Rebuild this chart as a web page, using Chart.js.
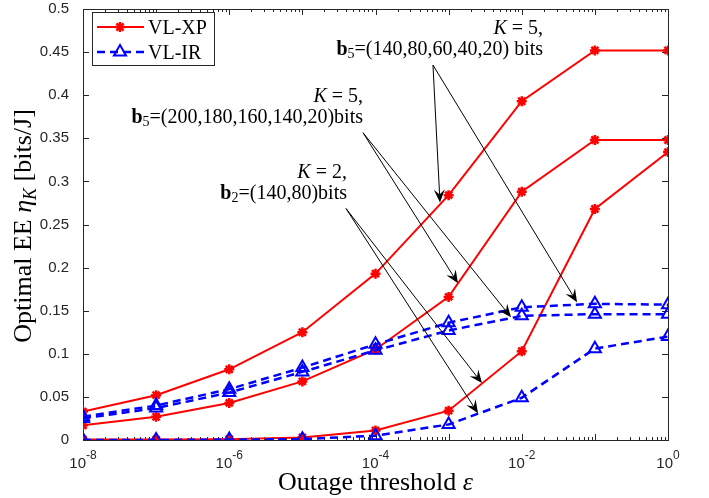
<!DOCTYPE html>
<html>
<head>
<meta charset="utf-8">
<script src="https://cdn.jsdelivr.net/npm/chart.js@4.4.1/dist/chart.umd.min.js"></script>
<style>
  body { margin: 0; background: #fff; }
  canvas { display: block; }
</style>
</head>
<body>
<canvas id="eeChart" width="709" height="498"></canvas>
<script>
/* Data */
const epsilon = [1e-8, 1e-7, 1e-6, 1e-5, 1e-4, 1e-3, 1e-2, 1e-1, 1];
// VL-XP (red)
const xpK5short = [0.033, 0.052, 0.082, 0.125, 0.193, 0.284, 0.393, 0.452, 0.452]; // b5=(140,80,60,40,20)
const xpK5long  = [0.017, 0.027, 0.043, 0.068, 0.105, 0.166, 0.288, 0.348, 0.348]; // b5=(200,180,160,140,20)
const xpK2      = [0.0005, 0.0005, 0.001, 0.003, 0.011, 0.034, 0.103, 0.268, 0.334]; // b2=(140,80)
// VL-IR (blue)
const irK5short = [0.027, 0.040, 0.059, 0.084, 0.111, 0.136, 0.154, 0.158, 0.157];
const irK5long  = [0.025, 0.037, 0.055, 0.079, 0.104, 0.127, 0.144, 0.146, 0.146];
const irK2      = [0, 0, 0.0005, 0.001, 0.005, 0.018, 0.049, 0.106, 0.120];

const yTicks = [0, 0.05, 0.1, 0.15, 0.2, 0.25, 0.3, 0.35, 0.4, 0.45, 0.5];
const xTicks = [1e-8, 1e-6, 1e-4, 1e-2, 1];
const xTickExp = ['-8', '-6', '-4', '-2', '0'];

const RED = '#ff0000';
const BLUE = '#0000ff';
const AXIS = '#262626';
const SERIF = '"Liberation Serif", "Times New Roman", serif';
const SANS = '"Liberation Sans", Arial, sans-serif';

function pts(vals) {
  return vals.map((v, i) => ({ x: epsilon[i], y: v }));
}

function xp(label, vals) {
  return {
    label, data: pts(vals), borderColor: RED, backgroundColor: RED,
    borderWidth: 2, pointStyle: 'star', pointRadius: 5, pointBorderWidth: 2.5,
    pointBorderColor: RED, tension: 0
  };
}

function ir(label, vals) {
  return {
    label, data: pts(vals), borderColor: BLUE, backgroundColor: 'rgba(0,0,0,0)',
    borderWidth: 2.5, borderDash: [8, 5], pointStyle: 'triangle', pointRadius: 7,
    pointBorderWidth: 2, pointBorderColor: BLUE, tension: 0
  };
}

/* Annotations: text anchored at its right end (x as log10 eps, y as EE), arrows from -> tips */
const notes = [
  { right: [-1.709, 0.471], k: '5', bits: '=(140,80,60,40,20) bits',
    from: [-3.214, 0.435], tips: [[-3.118, 0.2755], [-1.244, 0.1597]] },
  { right: [-4.171, 0.392], k: '5', bits: '=(200,180,160,140,20)bits',
    from: [-4.171, 0.3565], tips: [[-2.872, 0.1817], [-2.147, 0.1424]] },
  { right: [-4.390, 0.304], k: '2', bits: '=(140,80)bits',
    from: [-4.403, 0.2685], tips: [[-2.544, 0.066], [-2.598, 0.031]] }
];

function drawRuns(ctx, runs, xRight, y) {
  let total = 0;
  runs.forEach(r => { ctx.font = r.font; total += ctx.measureText(r.t).width; });
  let x = xRight - total;
  runs.forEach(r => {
    ctx.font = r.font;
    ctx.fillText(r.t, x, y + (r.dy || 0));
    x += ctx.measureText(r.t).width;
  });
}

function runsWidth(ctx, runs) {
  let w = 0;
  runs.forEach(r => { ctx.font = r.font; w += ctx.measureText(r.t).width; });
  return w;
}

function arrow(ctx, x0, y0, x1, y1) {
  const a = Math.atan2(y1 - y0, x1 - x0);
  const len = 13, half = 5.5, notch = 8;
  ctx.beginPath();
  ctx.moveTo(x0, y0);
  ctx.lineTo(x1 - Math.cos(a) * notch, y1 - Math.sin(a) * notch);
  ctx.stroke();
  const bx = x1 - Math.cos(a) * len, by = y1 - Math.sin(a) * len;
  const nx = x1 - Math.cos(a) * notch, ny = y1 - Math.sin(a) * notch;
  ctx.beginPath();
  ctx.moveTo(x1, y1);
  ctx.lineTo(bx + Math.sin(a) * half, by - Math.cos(a) * half);
  ctx.lineTo(nx, ny);
  ctx.lineTo(bx - Math.sin(a) * half, by + Math.cos(a) * half);
  ctx.closePath();
  ctx.fill();
}

/* Box, inward ticks, x tick labels, titles, notes and legend */
const frame = {
  id: 'frame',
  beforeDatasetsDraw(chart) {
    const { ctx, chartArea: a, scales: { x, y } } = chart;
    ctx.save();
    ctx.strokeStyle = AXIS;
    ctx.lineWidth = 1;
    ctx.strokeRect(Math.round(a.left) + 0.5, Math.round(a.top) + 0.5,
      Math.round(a.right - a.left), Math.round(a.bottom - a.top));
    ctx.beginPath();
    yTicks.forEach(v => {
      const py = Math.round(y.getPixelForValue(v)) + 0.5;
      ctx.moveTo(a.left, py); ctx.lineTo(a.left + 6, py);
      ctx.moveTo(a.right, py); ctx.lineTo(a.right - 6, py);
    });
    for (let d = -8; d <= 0; d++) {
      for (let m = 1; m <= (d < 0 ? 9 : 1); m++) {
        const px = Math.round(x.getPixelForValue(m * Math.pow(10, d))) + 0.5;
        const l = m === 1 ? 6 : 3;
        ctx.moveTo(px, a.bottom); ctx.lineTo(px, a.bottom - l);
        ctx.moveTo(px, a.top); ctx.lineTo(px, a.top + l);
      }
    }
    ctx.stroke();
    ctx.restore();
  },
  afterDraw(chart) {
    const { ctx, chartArea: a, scales: { x, y } } = chart;
    ctx.save();
    ctx.textAlign = 'left';
    ctx.textBaseline = 'alphabetic';

    // x tick labels with superscript exponents
    ctx.fillStyle = AXIS;
    xTicks.forEach((v, i) => {
      const runs = [
        { t: '10', font: '15px ' + SANS },
        { t: xTickExp[i], font: '12px ' + SANS, dy: -9 }
      ];
      const px = x.getPixelForValue(v);
      drawRuns(ctx, runs, px + runsWidth(ctx, runs) / 2, a.bottom + 28);
    });

    // axis titles
    ctx.fillStyle = '#000';
    const xt = [
      { t: 'Outage threshold ', font: '26px ' + SERIF },
      { t: 'ε', font: 'italic 26px ' + SERIF }
    ];
    drawRuns(ctx, xt, (a.left + a.right) / 2 + runsWidth(ctx, xt) / 2, 490);

    ctx.save();
    ctx.translate(31, 226);
    ctx.rotate(-Math.PI / 2);
    const yt = [
      { t: 'Optimal EE ', font: '26px ' + SERIF },
      { t: 'η', font: 'italic 26px ' + SERIF },
      { t: 'K', font: 'italic 18px ' + SERIF, dy: 5 },
      { t: ' [bits/J]', font: '26px ' + SERIF }
    ];
    drawRuns(ctx, yt, runsWidth(ctx, yt) / 2, 0);
    ctx.restore();

    // annotations
    ctx.fillStyle = '#000';
    ctx.strokeStyle = '#000';
    ctx.lineWidth = 1;
    const X = e => x.getPixelForValue(Math.pow(10, e));
    notes.forEach(n => {
      const rx = X(n.right[0]), ry = y.getPixelForValue(n.right[1]);
      drawRuns(ctx, [
        { t: 'K', font: 'italic 20px ' + SERIF },
        { t: ' = ' + n.k + ',', font: '20px ' + SERIF }
      ], rx, ry);
      drawRuns(ctx, [
        { t: 'b', font: 'bold 20px ' + SERIF },
        { t: n.k, font: '14px ' + SERIF, dy: 3 },
        { t: n.bits, font: '20px ' + SERIF }
      ], rx, ry + 21);
      const fx = X(n.from[0]), fy = y.getPixelForValue(n.from[1]);
      n.tips.forEach(t => arrow(ctx, fx, fy, X(t[0]), y.getPixelForValue(t[1])));
    });

    // legend
    const lx = 92, ly = 12, lw = 122, lh = 53;
    ctx.fillStyle = '#fff';
    ctx.fillRect(lx, ly, lw, lh);
    ctx.strokeStyle = AXIS;
    ctx.strokeRect(lx + 0.5, ly + 0.5, lw, lh);
    const entries = [chart.data.datasets[3], chart.data.datasets[0]];
    entries.forEach((ds, i) => {
      const cy = ly + 15 + i * 25;
      ctx.save();
      ctx.strokeStyle = ds.borderColor;
      ctx.fillStyle = ds.backgroundColor;
      ctx.lineWidth = ds.borderWidth;
      ctx.setLineDash(ds.borderDash || []);
      ctx.beginPath();
      ctx.moveTo(lx + 5, cy); ctx.lineTo(lx + 52, cy);
      ctx.stroke();
      ctx.setLineDash([]);
      ctx.lineWidth = ds.pointBorderWidth;
      Chart.helpers.drawPoint(ctx, {
        pointStyle: ds.pointStyle, radius: ds.pointRadius, rotation: 0,
        borderWidth: ds.pointBorderWidth
      }, lx + 28, cy);
      ctx.restore();
      ctx.fillStyle = '#000';
      ctx.font = '20px ' + SERIF;
      ctx.fillText(ds.label, lx + 56, cy + 7);
    });
    ctx.restore();
  }
};

new Chart(document.getElementById('eeChart'), {
  type: 'line',
  data: {
    datasets: [
      ir('VL-IR', irK5short),
      ir('VL-IR', irK5long),
      ir('VL-IR', irK2),
      xp('VL-XP', xpK5short),
      xp('VL-XP', xpK5long),
      xp('VL-XP', xpK2)
    ]
  },
  options: {
    responsive: false,
    animation: false,
    devicePixelRatio: 1,
    layout: { padding: { top: 8, right: 41, left: 0, bottom: 0 } },
    plugins: { legend: { display: false }, tooltip: { enabled: false } },
    scales: {
      x: {
        type: 'logarithmic', min: 1e-8, max: 1,
        grid: { display: false }, border: { display: false },
        ticks: { display: false },
        afterFit(s) { s.height = 58; }
      },
      y: {
        min: 0, max: 0.5,
        grid: { display: false }, border: { display: false },
        afterBuildTicks(s) { s.ticks = yTicks.map(v => ({ value: v })); },
        ticks: {
          color: AXIS, padding: 6,
          font: { family: SANS, size: 15 },
          callback: v => String(Number(v.toFixed(2)))
        },
        afterFit(s) { s.width = 83; s.paddingTop = 0; s.paddingBottom = 0; }
      }
    }
  },
  plugins: [frame]
});
</script>
</body>
</html>
